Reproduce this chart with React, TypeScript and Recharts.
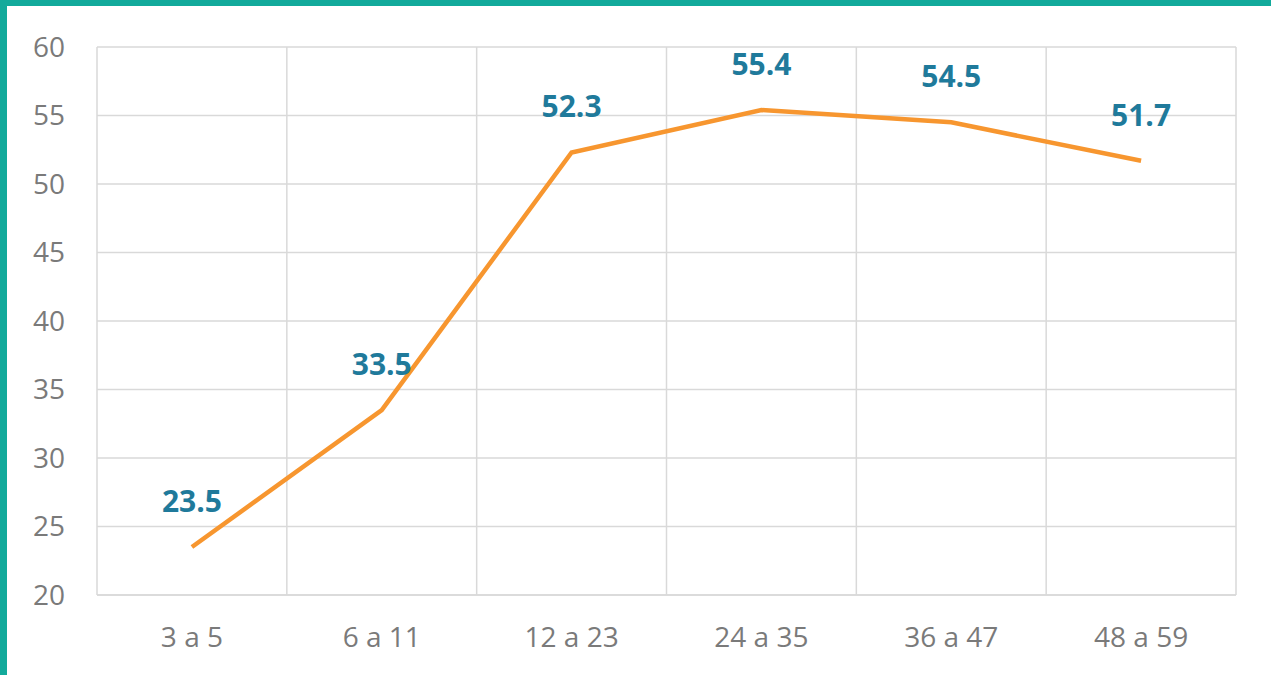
import React from 'react';
import { LineChart, Line, XAxis, YAxis, CartesianGrid, LabelList } from 'recharts';

const ageGroups = ['3 a 5', '6 a 11', '12 a 23', '24 a 35', '36 a 47', '48 a 59'];
const values = [23.5, 33.5, 52.3, 55.4, 54.5, 51.7];
const yTicks = [20, 25, 30, 35, 40, 45, 50, 55, 60];

const data = ageGroups.map((group, i) => ({ group, value: values[i] }));

const font = '"Open Sans", sans-serif';

export default function App() {
  return (
    <div
      style={{
        position: 'fixed',
        top: 0,
        left: 0,
        width: 1264,
        height: 669,
        background: '#fff',
        borderTop: '6px solid #12aa9b',
        borderLeft: '7px solid #12aa9b',
        fontFamily: font,
      }}
    >
      <LineChart width={1264} height={669} data={data} margin={{ top: 41, right: 35, left: 30, bottom: 0 }}>
        <CartesianGrid
          stroke="#d9d9d9"
          strokeWidth={1.5}
          verticalCoordinatesGenerator={({ offset }: any) =>
            Array.from({ length: ageGroups.length + 1 }, (_, i) => offset.left + (i * offset.width) / ageGroups.length)
          }
        />
        <XAxis
          dataKey="group"
          scale="band"
          height={80}
          axisLine={{ stroke: '#d9d9d9', strokeWidth: 1.5 }}
          tickLine={false}
          tickMargin={26}
          tick={{ fill: '#7a7a7a', fontSize: 28, fontFamily: font }}
        />
        <YAxis
          domain={[20, 60]}
          ticks={yTicks}
          width={60}
          axisLine={false}
          tickLine={false}
          tickMargin={26}
          tick={{ fill: '#7a7a7a', fontSize: 28, fontFamily: font }}
        />
        <Line
          type="linear"
          dataKey="value"
          stroke="#f7962f"
          strokeWidth={4.5}
          dot={false}
          activeDot={false}
          isAnimationActive={false}
        >
          <LabelList
            dataKey="value"
            position="top"
            offset={35}
            fill="#1f7a9b"
            fontSize={30}
            fontWeight={700}
            fontFamily={font}
            formatter={(v: any) => Number(v).toFixed(1)}
          />
        </Line>
      </LineChart>
    </div>
  );
}
